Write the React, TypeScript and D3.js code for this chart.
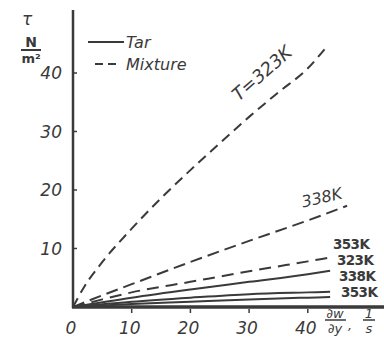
import React from "react";
import * as d3 from "d3";

// shear rate (1/s) and shear stress tau (N/m^2)
const shearMix323 = [0, 2, 5, 10, 15, 20, 25, 30, 35, 40, 43.3];
const tauMix323 = [0, 3.6, 7.7, 13.4, 18.6, 23.4, 28.0, 32.5, 36.7, 40.8, 44.6];
const shearMix338 = [0, 5, 10, 20, 30, 40, 46.7];
const tauMix338 = [0, 2.0, 3.9, 7.7, 11.3, 14.8, 17.3];
const shearMix353 = [0, 5, 10, 20, 30, 40, 44.1];
const tauMix353 = [0, 1.3, 2.5, 4.3, 6.1, 7.8, 8.5];
const shearTar = [0, 10, 20, 30, 40, 43.8];
const tauTar323 = [0, 1.6, 3.0, 4.3, 5.6, 6.2];
const tauTar338 = [0, 0.9, 1.6, 2.2, 2.5, 2.6];
const tauTar353 = [0, 0.5, 0.9, 1.3, 1.6, 1.7];

const xTicks = [0, 10, 20, 30, 40];
const yTicks = [10, 20, 30, 40];

const ink = "#3a3a3a";
const font = "'DejaVu Sans', sans-serif";

const App = () => {
  const width = 384;
  const height = 355;
  const x = d3.scaleLinear().domain([0, 50]).range([73, 366.5]);
  const y = d3.scaleLinear().domain([0, 50]).range([307, 14.5]);

  const line = d3
    .line<[number, number]>()
    .x((d) => x(d[0]))
    .y((d) => y(d[1]))
    .curve(d3.curveMonotoneX);

  const series = [
    { xs: shearMix323, ys: tauMix323, dash: "10,6" },
    { xs: shearMix338, ys: tauMix338, dash: "12,6" },
    { xs: shearMix353, ys: tauMix353, dash: "12,7" },
    { xs: shearTar, ys: tauTar323, dash: null },
    { xs: shearTar, ys: tauTar338, dash: null },
    { xs: shearTar, ys: tauTar353, dash: null },
  ];

  return (
    <svg
      width={width}
      height={height}
      style={{ position: "absolute", left: 0, top: 0, background: "#fff" }}
      fontFamily={font}
      fontStyle="italic"
      fill={ink}
    >
      {/* axes */}
      <line x1={73} x2={73} y1={10} y2={308} stroke={ink} strokeWidth={2.5} />
      <line x1={72} x2={384} y1={307} y2={307} stroke={ink} strokeWidth={3.5} />
      {yTicks.map((t) => (
        <g key={"y" + t}>
          <line x1={73} x2={77} y1={y(t)} y2={y(t)} stroke={ink} strokeWidth={1.5} />
          <text x={62} y={y(t)} dy="0.36em" textAnchor="end" fontSize={17}>
            {t}
          </text>
        </g>
      ))}
      {xTicks.map((t) => (
        <g key={"x" + t}>
          {t > 0 && (
            <line x1={x(t)} x2={x(t)} y1={309} y2={313} stroke={ink} strokeWidth={1.5} />
          )}
          <text x={x(t) - 2} y={334} textAnchor="middle" fontSize={17}>
            {t}
          </text>
        </g>
      ))}

      {/* series */}
      {series.map((s, i) => (
        <path
          key={i}
          d={line(s.xs.map((v, j) => [v, s.ys[j]] as [number, number])) || ""}
          fill="none"
          stroke={ink}
          strokeWidth={2}
          strokeDasharray={s.dash || undefined}
        />
      ))}

      {/* curve labels */}
      <text
        transform="translate(266,78) rotate(-41)"
        textAnchor="middle"
        fontSize={18}
      >
        T=323K
      </text>
      <text
        transform="translate(323,203) rotate(-13)"
        textAnchor="middle"
        fontSize={16}
      >
        338K
      </text>
      <g fontSize={13.5} fontWeight="bold" fontStyle="normal" letterSpacing={-0.6}>
        <text x={333} y={249}>353K</text>
        <text x={337} y={265}>323K</text>
        <text x={339} y={281}>338K</text>
        <text x={341} y={297}>353K</text>
      </g>

      {/* legend */}
      <line x1={88} x2={124} y1={42} y2={42} stroke={ink} strokeWidth={2} />
      <text x={126} y={48} fontSize={16}>Tar</text>
      <line x1={95} x2={117} y1={64} y2={64} stroke={ink} strokeWidth={2} strokeDasharray="8,5" />
      <text x={126} y={70} fontSize={16}>Mixture</text>

      {/* y axis label */}
      <text x={27} y={25} textAnchor="middle" fontSize={17}>τ</text>
      <text x={31} y={47} textAnchor="middle" fontSize={14} fontWeight="bold" fontStyle="normal">N</text>
      <line x1={21} x2={41} y1={50} y2={50} stroke={ink} strokeWidth={2} />
      <text x={31} y={63} textAnchor="middle" fontSize={13} fontWeight="bold" fontStyle="normal">
        m²
      </text>

      {/* x axis label */}
      <g fontSize={13}>
        <text x={335} y={318} textAnchor="middle">∂w</text>
        <line x1={325} x2={346} y1={320} y2={320} stroke={ink} strokeWidth={1.5} />
        <text x={335} y={333} textAnchor="middle">∂y</text>
        <text x={348} y={330}>,</text>
        <text x={369} y={318} textAnchor="middle">1</text>
        <line x1={363} x2={375} y1={320} y2={320} stroke={ink} strokeWidth={1.5} />
        <text x={369} y={333} textAnchor="middle">s</text>
      </g>
    </svg>
  );
};

export default App;
